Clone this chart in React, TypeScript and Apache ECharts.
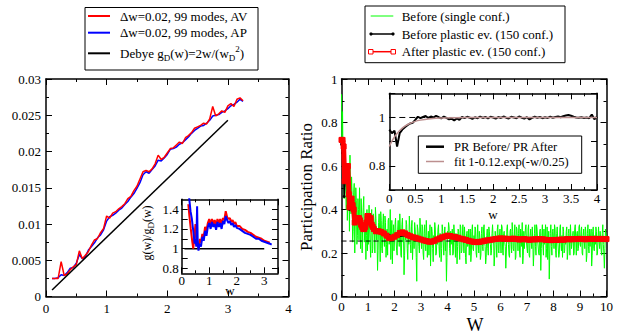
import React, { useEffect, useRef } from 'react';
import * as echarts from 'echarts';

const FONT = '"Liberation Serif", "Times New Roman", serif';

// ---------- Left main panel: density of states ----------
const leftStart = 0.1;
const leftStep = 0.05;
const leftRed = [
  0.0025, 0.0025, 0.0025, 0.0048, 0.0029, 0.0031, 0.0037, 0.0041, 0.0044, 0.0063,
  0.0052, 0.0057, 0.0062, 0.0071, 0.0078, 0.0080, 0.0088, 0.0094, 0.0111, 0.0108,
  0.0115, 0.0117, 0.0121, 0.0124, 0.0128, 0.0135, 0.0138, 0.0146, 0.0152, 0.0162,
  0.0172, 0.0174, 0.0172, 0.0176, 0.0183, 0.0195, 0.0189, 0.0192, 0.0198, 0.0204,
  0.0205, 0.0209, 0.0213, 0.0211, 0.0219, 0.0222, 0.0226, 0.0232, 0.0234, 0.0236,
  0.0239, 0.0238, 0.0245, 0.0262, 0.0249, 0.0252, 0.0256, 0.0254, 0.0263, 0.0266,
  0.0262, 0.0272, 0.0274, 0.0270,
];
const leftBlue = [
  0.0025, 0.0025, 0.0026, 0.0030, 0.0029, 0.0033, 0.0039, 0.0040, 0.0046, 0.0058,
  0.0052, 0.0055, 0.0064, 0.0069, 0.0074, 0.0081, 0.0085, 0.0092, 0.0104, 0.0110,
  0.0112, 0.0115, 0.0119, 0.0122, 0.0127, 0.0131, 0.0137, 0.0142, 0.0149, 0.0157,
  0.0168, 0.0172, 0.0170, 0.0175, 0.0180, 0.0188, 0.0187, 0.0191, 0.0196, 0.0203,
  0.0204, 0.0206, 0.0210, 0.0212, 0.0216, 0.0220, 0.0225, 0.0229, 0.0232, 0.0235,
  0.0236, 0.0239, 0.0243, 0.0249, 0.0250, 0.0251, 0.0254, 0.0256, 0.0259, 0.0263,
  0.0265, 0.0268, 0.0272, 0.0269,
];
const debye = [[0.1, 0.0009], [3.0, 0.0243]];

// ---------- Left inset: g(w)/gD(w) ----------
const insetRed = [
  [0.24, 1.45], [0.28, 1.33], [0.33, 1.2], [0.38, 1.08], [0.42, 1.0], [0.46, 1.12], [0.5, 1.25],
  [0.54, 1.08], [0.58, 1.03], [0.62, 1.0], [0.66, 1.1], [0.7, 1.06], [0.75, 1.15], [0.8, 1.12],
  [0.85, 1.22], [0.9, 1.18], [0.95, 1.26], [1.0, 1.3], [1.05, 1.24], [1.1, 1.3], [1.15, 1.25],
  [1.2, 1.29], [1.25, 1.23], [1.3, 1.3], [1.35, 1.26], [1.4, 1.3], [1.45, 1.24], [1.5, 1.31],
  [1.55, 1.29], [1.6, 1.38], [1.65, 1.32], [1.7, 1.3], [1.75, 1.31], [1.8, 1.27], [1.85, 1.29],
  [1.9, 1.25], [1.95, 1.27], [2.0, 1.23], [2.1, 1.23], [2.2, 1.2], [2.3, 1.19], [2.4, 1.17],
  [2.5, 1.16], [2.6, 1.14], [2.7, 1.12], [2.8, 1.11], [2.9, 1.1], [3.0, 1.08], [3.1, 1.07], [3.2, 1.06],
];
const insetBlue = [
  [0.22, 1.8], [0.27, 1.52], [0.32, 1.38], [0.37, 1.3], [0.42, 1.18], [0.47, 1.05], [0.5, 1.1],
  [0.53, 1.02], [0.56, 1.43], [0.58, 1.1], [0.61, 0.98], [0.65, 1.05], [0.7, 1.02], [0.75, 1.12],
  [0.8, 1.08], [0.85, 1.18], [0.9, 1.13], [0.95, 1.22], [1.0, 1.26], [1.05, 1.2], [1.1, 1.27],
  [1.15, 1.22], [1.2, 1.25], [1.25, 1.19], [1.3, 1.27], [1.35, 1.22], [1.4, 1.26], [1.45, 1.2],
  [1.5, 1.28], [1.55, 1.25], [1.6, 1.33], [1.65, 1.29], [1.7, 1.26], [1.75, 1.28], [1.8, 1.24],
  [1.85, 1.26], [1.9, 1.22], [1.95, 1.24], [2.0, 1.21], [2.1, 1.2], [2.2, 1.18], [2.3, 1.16],
  [2.4, 1.15], [2.5, 1.14], [2.6, 1.12], [2.7, 1.1], [2.8, 1.1], [2.9, 1.08], [3.0, 1.07],
  [3.1, 1.06], [3.2, 1.05], [3.27, 1.04],
];
const insetOne = [[0.1, 1], [3.0, 1]];

// ---------- Right main panel: participation ratio ----------
const greenMax = 10;
// samples at w = 0, 0.04, 0.08, ... 10
const greenPR = [
  0.93, 0.85, 0.62, 0.55, 0.50, 0.60, 0.45, 0.52, 0.65, 0.38, 0.47, 0.30, 0.52, 0.35, 0.44, 0.28, 0.40, 0.50, 0.22, 0.38, 0.34, 0.46, 0.30, 0.17, 0.40, 0.33,
  0.42, 0.25, 0.36, 0.20, 0.38, 0.29, 0.41, 0.26, 0.12, 0.34, 0.30, 0.39, 0.22, 0.33, 0.27, 0.37, 0.18, 0.31, 0.35, 0.24, 0.40, 0.28, 0.15, 0.33, 0.26,
  0.36, 0.21, 0.31, 0.27, 0.38, 0.19, 0.33, 0.25, 0.10, 0.30, 0.35, 0.22, 0.29, 0.37, 0.24, 0.32, 0.17, 0.28, 0.34, 0.26, 0.07, 0.31, 0.23, 0.36, 0.27,
  0.33, 0.20, 0.29, 0.24, 0.35, 0.18, 0.30, 0.27, 0.14, 0.32, 0.22, 0.28, 0.34, 0.19, 0.26, 0.31, 0.23, 0.29, 0.16, 0.33, 0.25, 0.28, 0.21, 0.07, 0.30,
  0.34, 0.22, 0.30, 0.27, 0.19, 0.33, 0.25, 0.29, 0.15, 0.31, 0.24, 0.33, 0.20, 0.28, 0.26, 0.32, 0.18, 0.29, 0.23, 0.31, 0.27, 0.16, 0.30, 0.22, 0.28,
  0.32, 0.20, 0.27, 0.24, 0.30, 0.17, 0.29, 0.23, 0.31, 0.26, 0.15, 0.28, 0.22, 0.32, 0.25, 0.19, 0.29, 0.27, 0.14, 0.30, 0.24, 0.31, 0.21, 0.28, 0.26,
  0.33, 0.21, 0.29, 0.25, 0.13, 0.31, 0.27, 0.19, 0.30, 0.24, 0.34, 0.22, 0.28, 0.17, 0.32, 0.26, 0.29, 0.20, 0.31, 0.23, 0.15, 0.30, 0.27, 0.33, 0.22,
  0.31, 0.19, 0.28, 0.25, 0.32, 0.14, 0.29, 0.23, 0.33, 0.26, 0.20, 0.30, 0.12, 0.28, 0.24, 0.31, 0.27, 0.18, 0.32, 0.25, 0.08, 0.29, 0.23, 0.30, 0.26,
  0.33, 0.21, 0.29, 0.26, 0.18, 0.31, 0.24, 0.28, 0.32, 0.20, 0.27, 0.30, 0.17, 0.29, 0.25, 0.33, 0.22, 0.28, 0.19, 0.31, 0.26, 0.29, 0.21, 0.32, 0.24,
  0.30, 0.20, 0.28, 0.25, 0.32, 0.16, 0.29, 0.23, 0.31, 0.27, 0.14, 0.30, 0.22, 0.28, 0.32, 0.19, 0.27, 0.25, 0.30, 0.21, 0.29, 0.24, 0.13, 0.31, 0.26,
];
// samples halfway between the ones above (w = 0.02, 0.06, ... 9.98)
const greenMidPR = [
  0.70, 0.60, 0.45, 0.63, 0.40, 0.35, 0.58, 0.30, 0.42, 0.55, 0.25, 0.48, 0.20, 0.50, 0.24, 0.45, 0.26, 0.33, 0.45, 0.20, 0.41, 0.25, 0.38, 0.28, 0.21,
  0.24, 0.31, 0.18, 0.40, 0.22, 0.35, 0.20, 0.36, 0.30, 0.21, 0.38, 0.16, 0.35, 0.20, 0.38, 0.23, 0.34, 0.24, 0.19, 0.36, 0.26, 0.17, 0.35, 0.28, 0.21,
  0.33, 0.26, 0.19, 0.35, 0.23, 0.30, 0.18, 0.36, 0.28, 0.19, 0.26, 0.33, 0.17, 0.24, 0.31, 0.20, 0.35, 0.25, 0.22, 0.31, 0.18, 0.33, 0.28, 0.20, 0.31,
  0.22, 0.32, 0.17, 0.33, 0.21, 0.28, 0.25, 0.19, 0.33, 0.24, 0.30, 0.16, 0.26, 0.31, 0.20, 0.24, 0.33, 0.18, 0.27, 0.22, 0.30, 0.19, 0.32, 0.25, 0.18,
  0.27, 0.32, 0.19, 0.24, 0.31, 0.20, 0.33, 0.18, 0.28, 0.23, 0.30, 0.17, 0.32, 0.21, 0.33, 0.20, 0.27, 0.15, 0.30, 0.24, 0.19, 0.31, 0.20, 0.33, 0.21,
  0.24, 0.31, 0.18, 0.33, 0.20, 0.27, 0.19, 0.32, 0.21, 0.33, 0.23, 0.18, 0.31, 0.19, 0.30, 0.24, 0.21, 0.33, 0.26, 0.19, 0.30, 0.18, 0.33, 0.20, 0.31,
  0.20, 0.32, 0.19, 0.30, 0.23, 0.20, 0.33, 0.24, 0.18, 0.31, 0.20, 0.30, 0.21, 0.33, 0.18, 0.31, 0.21, 0.33, 0.18, 0.28, 0.34, 0.19, 0.22, 0.31, 0.25,
  0.20, 0.33, 0.18, 0.31, 0.22, 0.25, 0.20, 0.33, 0.19, 0.31, 0.26, 0.19, 0.31, 0.22, 0.33, 0.19, 0.24, 0.33, 0.22, 0.17, 0.30, 0.20, 0.33, 0.19, 0.31,
  0.22, 0.31, 0.18, 0.32, 0.26, 0.20, 0.33, 0.21, 0.18, 0.30, 0.21, 0.24, 0.32, 0.20, 0.31, 0.19, 0.33, 0.22, 0.30, 0.20, 0.33, 0.19, 0.30, 0.22, 0.33,
  0.23, 0.32, 0.19, 0.31, 0.22, 0.30, 0.19, 0.33, 0.20, 0.23, 0.31, 0.19, 0.32, 0.21, 0.24, 0.30, 0.20, 0.32, 0.22, 0.30, 0.19, 0.33, 0.20, 0.22, 0.31,
];
const plateau = 0.255;
const beforePR = [
  [0, 0.70], [0.04, 0.66], [0.07, 0.63], [0.1, 0.46], [0.14, 0.55], [0.18, 0.58], [0.22, 0.6],
  [0.26, 0.44], [0.3, 0.4], [0.34, 0.42], [0.38, 0.44], [0.42, 0.4], [0.46, 0.37], [0.5, 0.35],
  [0.6, 0.36], [0.7, 0.35], [0.8, 0.32], [0.9, 0.32], [1.0, 0.36], [1.1, 0.35], [1.2, 0.31],
  [1.5, 0.295], [2.0, 0.275], [2.5, 0.28], [3.0, 0.26], [3.5, 0.255], [4.0, 0.275], [4.5, 0.265],
  [5.0, 0.25], [5.5, 0.257], [6.0, 0.265], [6.5, 0.263], [7.0, 0.26], [7.5, 0.262], [8.0, 0.258],
  [8.5, 0.262], [9.0, 0.263], [9.5, 0.262], [10.0, 0.262],
];
const afterPR = [
  [0, 0.72], [0.04, 0.72], [0.08, 0.69], [0.12, 0.53], [0.16, 0.55], [0.2, 0.58], [0.24, 0.6],
  [0.28, 0.47], [0.3, 0.41], [0.34, 0.44], [0.38, 0.45], [0.42, 0.42], [0.46, 0.4], [0.5, 0.34],
  [0.54, 0.35], [0.58, 0.36], [0.62, 0.36], [0.66, 0.36], [0.7, 0.35], [0.74, 0.33], [0.78, 0.32],
  [0.82, 0.31], [0.86, 0.31], [0.9, 0.32], [0.94, 0.34], [0.98, 0.37], [1.02, 0.37], [1.06, 0.35],
  [1.1, 0.36], [1.14, 0.33], [1.18, 0.32], [1.22, 0.31], [1.3, 0.3], [1.4, 0.3], [1.5, 0.297],
  [1.6, 0.29], [1.7, 0.28], [1.8, 0.268], [1.9, 0.27], [2.0, 0.275], [2.1, 0.282], [2.2, 0.292],
  [2.3, 0.295], [2.4, 0.29], [2.5, 0.282], [2.6, 0.277], [2.7, 0.272], [2.8, 0.27], [2.9, 0.266],
  [3.0, 0.262], [3.1, 0.258], [3.2, 0.255], [3.3, 0.252], [3.4, 0.252], [3.5, 0.256], [3.6, 0.262],
  [3.7, 0.267], [3.8, 0.272], [3.9, 0.276], [4.0, 0.28], [4.1, 0.278], [4.2, 0.275], [4.3, 0.273],
  [4.4, 0.27], [4.5, 0.266], [4.6, 0.263], [4.7, 0.26], [4.8, 0.256], [4.9, 0.253], [5.0, 0.251],
  [5.1, 0.25], [5.2, 0.251], [5.3, 0.253], [5.4, 0.256], [5.5, 0.258], [5.6, 0.26], [5.7, 0.262],
  [5.8, 0.264], [5.9, 0.266], [6.0, 0.267], [6.1, 0.266], [6.2, 0.266], [6.3, 0.264], [6.4, 0.265],
  [6.5, 0.266], [6.6, 0.264], [6.7, 0.262], [6.8, 0.263], [6.9, 0.264], [7.0, 0.262], [7.1, 0.261],
  [7.2, 0.262], [7.3, 0.263], [7.4, 0.263], [7.5, 0.264], [7.6, 0.263], [7.7, 0.261], [7.8, 0.26],
  [7.9, 0.259], [8.0, 0.26], [8.1, 0.26], [8.2, 0.261], [8.3, 0.262], [8.4, 0.261], [8.5, 0.264],
  [8.6, 0.263], [8.7, 0.263], [8.8, 0.264], [8.9, 0.264], [9.0, 0.265], [9.1, 0.264], [9.2, 0.263],
  [9.3, 0.264], [9.4, 0.265], [9.5, 0.264], [9.6, 0.265], [9.7, 0.264], [9.8, 0.265], [9.9, 0.264],
  [10.0, 0.264],
];

// ---------- Right inset: PR before / PR after ----------
const ratioStep = 0.05;
const ratioPR = [
  0.950, 0.935, 0.945, 0.880, 0.935, 0.950, 0.960, 0.968, 0.975, 0.978,
  0.990, 1.003, 0.997, 1.002, 1.006, 0.998, 1.004, 1.000, 1.007, 1.001,
  0.996, 1.004, 0.998, 0.992, 0.995, 0.988, 0.996, 0.990, 1.002, 0.997,
  1.003, 0.999, 0.994, 1.001, 0.997, 1.004, 0.998, 1.002, 0.996, 1.003,
  1.000, 0.995, 1.002, 0.998, 1.004, 0.999, 0.996, 1.003, 1.000, 0.997,
  1.004, 0.999, 0.995, 1.001, 0.992, 0.998, 1.003, 0.999, 1.002, 0.997,
  1.001, 0.998, 1.003, 0.999, 1.002, 1.004, 1.001, 1.005, 1.008, 1.010,
  1.007, 1.003, 1.000, 0.999, 1.001, 0.998, 1.000, 0.997, 1.012, 0.993,
  1.003,
];
const fitCurve = [
  [0, 0.88], [0.05, 0.902], [0.1, 0.92], [0.15, 0.934], [0.2, 0.946], [0.3, 0.964], [0.4, 0.976],
  [0.5, 0.984], [0.6, 0.989], [0.75, 0.994], [1.0, 0.998], [1.5, 1.0], [2.0, 1.0], [3.0, 1.0], [4.0, 1.0],
];
const ratioRef = [[0, 1], [4, 1]];

const fmt = (v: number) => String(Math.round(v * 10000) / 10000);

function xPair(grid: number, min: number, max: number, interval: number, minorSplit: number, o: any = {}) {
  const base: any = {
    type: 'value', gridIndex: grid, min, max, interval, z: o.z ?? 0,
    splitLine: { show: false },
    axisLine: { show: true, onZero: false, lineStyle: { color: '#000', width: 1.5 } },
    axisTick: { show: true, inside: true, length: 6, lineStyle: { color: '#000', width: 1 } },
    minorTick: { show: minorSplit > 0, splitNumber: minorSplit || 2, length: 3, lineStyle: { color: '#000', width: 1 } },
  };
  return [
    { ...base, position: 'bottom', axisLabel: { show: true, margin: o.margin ?? 4, color: '#000', fontFamily: FONT, fontSize: 13, formatter: fmt, showMaxLabel: o.showMax ?? true } },
    { ...base, position: 'top', axisLabel: { show: false } },
  ];
}

function yPair(grid: number, min: number, max: number, interval: number | undefined, minorSplit: number, o: any = {}) {
  const base: any = {
    type: 'value', gridIndex: grid, min, max, z: o.z ?? 0,
    splitLine: { show: false },
    axisLine: { show: true, onZero: false, lineStyle: { color: '#000', width: 1.5 } },
    axisTick: { show: true, inside: true, length: 6, lineStyle: { color: '#000', width: 1 }, ...(o.tickValues ? { customValues: o.tickValues } : {}) },
    minorTick: { show: minorSplit > 0, splitNumber: minorSplit || 2, length: 3, lineStyle: { color: '#000', width: 1 } },
  };
  if (interval !== undefined) base.interval = interval;
  return [
    { ...base, position: 'left', axisLabel: { show: true, margin: o.margin ?? 4, color: '#000', fontFamily: FONT, fontSize: 13, formatter: o.formatter ?? fmt, ...(o.labelValues ? { customValues: o.labelValues } : {}) } },
    { ...base, position: 'right', axisLabel: { show: false } },
  ];
}

const txt = (x: number, y: number, text: string, extra: any = {}, styleExtra: any = {}) => ({
  type: 'text', x, y, z: 30, ...extra,
  style: { text, fill: '#000', fontFamily: FONT, fontSize: 13, align: 'left', verticalAlign: 'middle', ...styleExtra },
});
const ln = (x1: number, y1: number, x2: number, y2: number, color: string, w: number) => ({
  type: 'line', z: 30, shape: { x1, y1, x2, y2 }, style: { stroke: color, lineWidth: w },
});
const box = (x: number, y: number, w: number, h: number) => ({
  type: 'rect', z: 29, shape: { x, y, width: w, height: h }, style: { fill: '#fff', stroke: '#000', lineWidth: 1 },
});
const richSS = {
  sub: { fontSize: 9, lineHeight: 9, verticalAlign: 'bottom', fontFamily: FONT, fill: '#000' },
  sup: { fontSize: 9, lineHeight: 9, verticalAlign: 'top', fontFamily: FONT, fill: '#000' },
};

export default function App() {
  const ref = useRef<HTMLDivElement>(null);
  useEffect(() => {
    document.body.style.margin = '0';
    const chart = echarts.init(ref.current!, null, { renderer: 'svg' });
    const nG = greenPR.length;
    const gStep = greenMax / (nG - 1);
    const greenData: number[][] = [];
    greenPR.forEach((v, i) => {
      greenData.push([i * gStep, v]);
      if (i < greenMidPR.length) greenData.push([(i + 0.5) * gStep, greenMidPR[i]]);
    });
    const option: any = {
      animation: false,
      backgroundColor: '#fff',
      textStyle: { fontFamily: FONT, color: '#000' },
      grid: [
        { left: 46, top: 79, width: 242.5, height: 217.5 },
        { left: 181.7, top: 199.3, width: 96.3, height: 74, show: true, backgroundColor: '#fff', borderWidth: 0, z: 5 },
        { left: 341.5, top: 79, width: 265, height: 217.5 },
        { left: 389.3, top: 93.3, width: 207.7, height: 96.7, show: true, backgroundColor: '#fff', borderWidth: 0, z: 5 },
      ],
      xAxis: [
        ...xPair(0, 0, 4, 1, 2, { margin: 5 }),
        ...xPair(1, 0, 3.5, 1, 2, { margin: 1, z: 7, showMax: false }),
        ...xPair(2, 0, 10, 1, 2, { margin: 3 }),
        ...xPair(3, 0, 4, 0.5, 2, { margin: 2, z: 7 }),
      ],
      yAxis: [
        ...yPair(0, 0, 0.03, 0.005, 2, { margin: 5 }),
        ...yPair(1, 0.75, 1.5, undefined, 0, {
          z: 7, margin: 3,
          labelValues: [0.8, 1, 1.2, 1.4],
          tickValues: [0.8, 0.9, 1, 1.1, 1.2, 1.3, 1.4],
        }),
        ...yPair(2, 0, 1, 0.2, 2, { margin: 4 }),
        ...yPair(3, 0.7, 1.1, 0.1, 0, {
          z: 7, margin: 4,
          labelValues: [0.8, 1],
          formatter: (v: number) => (Math.abs(v - 0.8) < 1e-6 ? '0.8' : Math.abs(v - 1) < 1e-6 ? '1' : ''),
        }),
      ],
      series: [
        // left main
        { type: 'line', xAxisIndex: 0, yAxisIndex: 0, showSymbol: false, z: 2,
          data: leftBlue.map((v, i) => [leftStart + i * leftStep, v]), lineStyle: { color: '#0000ff', width: 1.5 } },
        { type: 'line', xAxisIndex: 0, yAxisIndex: 0, showSymbol: false, z: 3,
          data: leftRed.map((v, i) => [leftStart + i * leftStep, v]), lineStyle: { color: '#ff0000', width: 1.5 } },
        { type: 'line', xAxisIndex: 0, yAxisIndex: 0, showSymbol: false, z: 3,
          data: debye, lineStyle: { color: '#000', width: 1.5 } },
        // left inset
        { type: 'line', xAxisIndex: 2, yAxisIndex: 2, showSymbol: false, z: 8,
          data: insetOne, lineStyle: { color: '#000', width: 1.5 } },
        { type: 'line', xAxisIndex: 2, yAxisIndex: 2, showSymbol: false, z: 8,
          data: insetRed, lineStyle: { color: '#ff0000', width: 2 } },
        { type: 'line', xAxisIndex: 2, yAxisIndex: 2, showSymbol: false, z: 9,
          data: insetBlue, lineStyle: { color: '#0000ff', width: 2 } },
        // right main
        { type: 'line', xAxisIndex: 4, yAxisIndex: 4, showSymbol: false, z: 2,
          data: greenData, lineStyle: { color: '#00ff00', width: 1 } },
        { type: 'line', xAxisIndex: 4, yAxisIndex: 4, showSymbol: false, z: 2,
          data: [[0, plateau], [10, plateau]], lineStyle: { color: '#000', width: 1, type: [5, 3] } },
        { type: 'line', xAxisIndex: 4, yAxisIndex: 4, z: 3, symbol: 'circle', symbolSize: 3,
          data: beforePR, lineStyle: { color: '#000', width: 1.5 }, itemStyle: { color: '#000' } },
        { type: 'line', xAxisIndex: 4, yAxisIndex: 4, z: 4, symbol: 'rect', symbolSize: 5,
          data: afterPR, lineStyle: { color: '#ff0000', width: 5 },
          itemStyle: { color: '#ff0000', borderColor: '#ff0000', borderWidth: 1 } },
        // right inset
        { type: 'line', xAxisIndex: 6, yAxisIndex: 6, showSymbol: false, z: 8,
          data: ratioRef, lineStyle: { color: '#000', width: 1, type: [6, 4] } },
        { type: 'line', xAxisIndex: 6, yAxisIndex: 6, showSymbol: false, z: 9,
          data: ratioPR.map((v, i) => [i * ratioStep, v]), lineStyle: { color: '#000', width: 2 } },
        { type: 'line', xAxisIndex: 6, yAxisIndex: 6, showSymbol: false, z: 10, smooth: 0.3,
          data: fitCurve, lineStyle: { color: '#bc8f8f', width: 1.5 } },
      ],
      graphic: [
        // left legend
        box(85, 7.5, 173, 62.5),
        ln(88, 16, 110, 16, '#ff0000', 2),
        txt(120, 16, 'Δw=0.02, 99 modes, AV'),
        ln(88, 32.7, 110, 32.7, '#0000ff', 2),
        txt(120, 32.7, 'Δw=0.02, 99 modes, AP'),
        ln(88, 53.3, 110, 53.3, '#000', 2),
        txt(120, 53.3, 'Debye g{sub|D}(w)=2w/(w{sub|D}{sup|2})', {}, { lineHeight: 18, rich: richSS }),
        // right legend
        box(365, 6, 200, 56.7),
        ln(370.7, 16, 393.3, 16, '#00ff00', 1),
        txt(401.7, 16, 'Before (single conf.)'),
        ln(370.7, 34, 393.3, 34, '#000', 1.5),
        { type: 'circle', z: 31, shape: { cx: 371, cy: 34, r: 1.6 }, style: { fill: '#000' } },
        { type: 'circle', z: 31, shape: { cx: 393, cy: 34, r: 1.6 }, style: { fill: '#000' } },
        txt(401.7, 34, 'Before plastic ev. (150 conf.)'),
        ln(370.7, 51.7, 393.3, 51.7, '#ff0000', 1.5),
        { type: 'rect', z: 31, shape: { x: 368.5, y: 49.5, width: 4.5, height: 4.5 }, style: { fill: '#fff', stroke: '#ff0000', lineWidth: 1 } },
        { type: 'rect', z: 31, shape: { x: 391, y: 49.5, width: 4.5, height: 4.5 }, style: { fill: '#fff', stroke: '#ff0000', lineWidth: 1 } },
        txt(401.7, 51.7, 'After plastic ev. (150 conf.)'),
        // right inset legend
        box(418.3, 136, 163.4, 37.3),
        ln(426, 146.7, 444, 146.7, '#000', 2.5),
        txt(454, 146.7, 'PR Before/ PR After', {}, { fontSize: 12.5 }),
        ln(426, 161.5, 444, 161.5, '#bc8f8f', 1.5),
        txt(454, 161.5, 'fit 1-0.12.exp(-w/0.25)', {}, { fontSize: 12.5 }),
        // axis titles
        txt(306.5, 187, 'Participation Ratio', { rotation: Math.PI / 2 }, { fontSize: 17, align: 'center' }),
        txt(475, 324.5, 'W', {}, { fontSize: 18, align: 'center' }),
        txt(230, 290, 'w', {}, { align: 'center' }),
        txt(493, 214.5, 'w', {}, { align: 'center' }),
        txt(147, 233, 'g(w)/g{sub|D}(w)', { rotation: Math.PI / 2 }, { fontSize: 12, align: 'center', lineHeight: 16, rich: richSS }),
      ],
    };
    chart.setOption(option);
    return () => chart.dispose();
  }, []);
  return <div ref={ref} style={{ width: 630, height: 333 }} />;
}
